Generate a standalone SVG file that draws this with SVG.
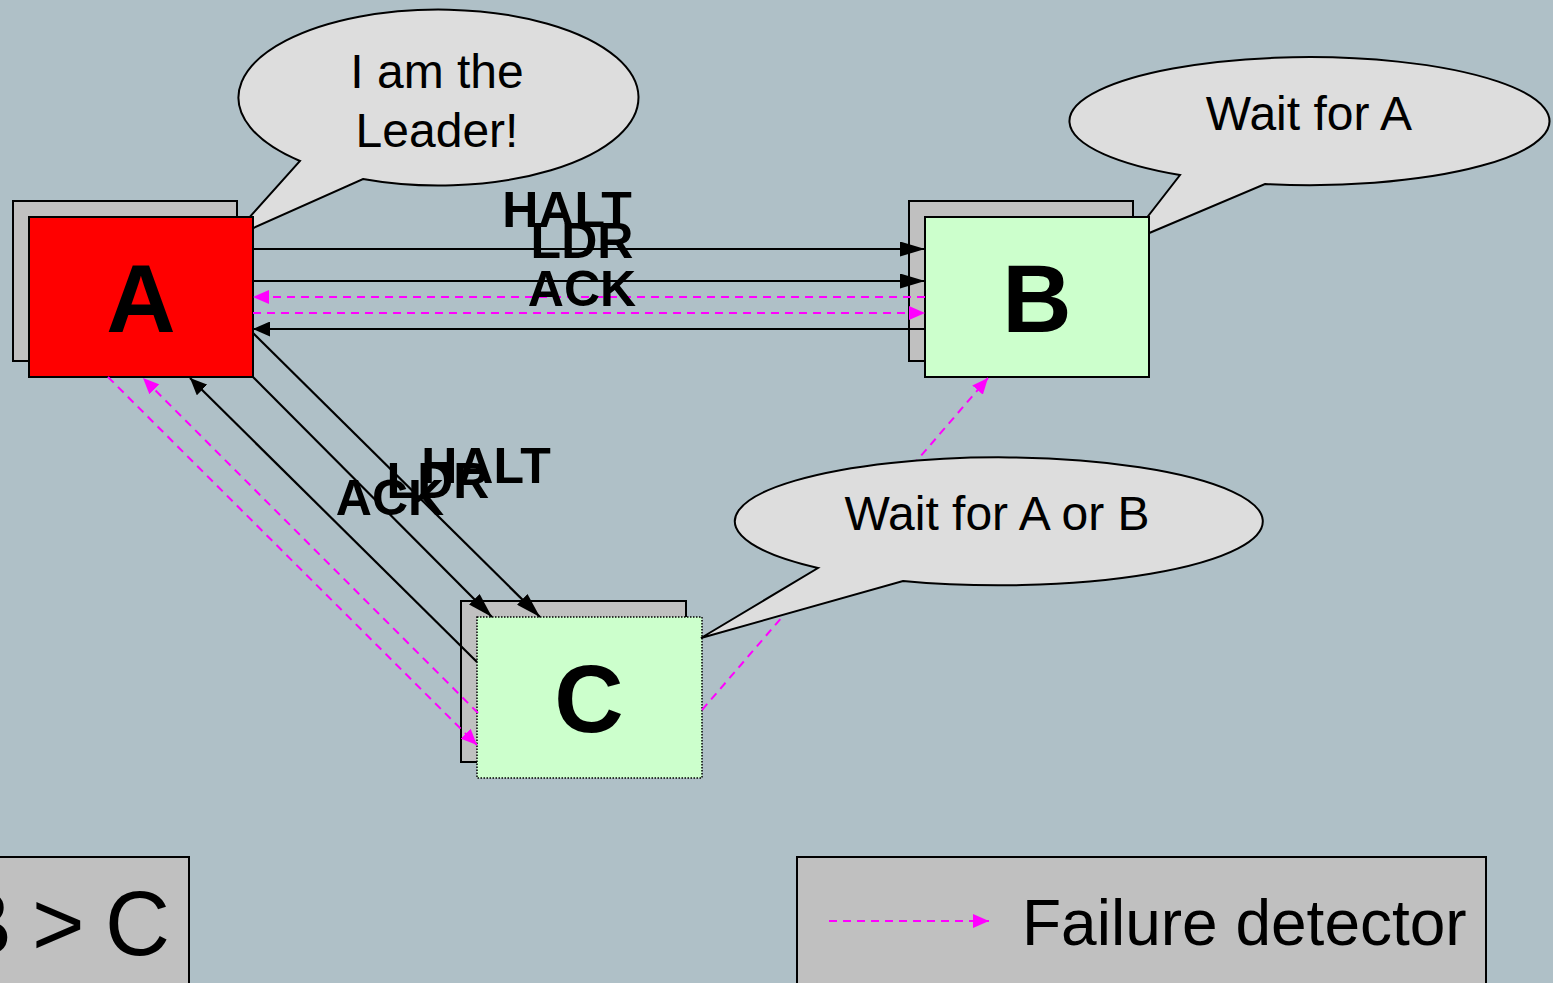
<svg xmlns="http://www.w3.org/2000/svg" width="1553" height="983" viewBox="0 0 1553 983">
<defs>
<style>
.bg{fill:#AFC0C7}
.bubble{fill:#DDDDDD;stroke:#000;stroke-width:2}
.btxt{font-family:"Liberation Sans",Arial,sans-serif;font-size:48px;fill:#000;text-anchor:middle}
.shadow{fill:#C0C0C0;stroke:#000;stroke-width:2}
.front{stroke:#000;stroke-width:2}
.letter{font-family:"Liberation Sans",Arial,sans-serif;font-weight:bold;font-size:96px;fill:#000;text-anchor:middle}
.msg{stroke:#000;stroke-width:2.2;fill:none}
.fd{stroke:#FF00FF;stroke-width:2;stroke-dasharray:8 6;fill:none}
.lbl{font-family:"Liberation Sans",Arial,sans-serif;font-weight:bold;font-size:50px;fill:#000;text-anchor:middle}
.box{fill:#C0C0C0;stroke:#000;stroke-width:2}
</style>
<marker id="arrL" viewBox="0 0 25 15" refX="25" refY="7.5" markerWidth="25" markerHeight="15" markerUnits="userSpaceOnUse" orient="auto">
<path d="M0,0 L25,7.5 L0,15 Z" fill="#000"/>
</marker>
<marker id="arrS" viewBox="0 0 17 15" refX="17" refY="7.5" markerWidth="17" markerHeight="15" markerUnits="userSpaceOnUse" orient="auto">
<path d="M0,0 L17,7.5 L0,15 Z" fill="#000"/>
</marker>
<marker id="arrM" viewBox="0 0 16 14" refX="16" refY="7" markerWidth="16" markerHeight="14" markerUnits="userSpaceOnUse" orient="auto">
<path d="M0,0 L16,7 L0,14 Z" fill="#FF00FF"/>
</marker>
</defs>
<rect class="bg" x="0" y="0" width="1553" height="983"/>

<g id="bubble-leader">
<path class="bubble" d="M300,161 A200 88 0 1 1 363,179 L231,238 Z"/>
<text class="btxt" x="437" y="88">I am the</text>
<text class="btxt" x="437" y="147">Leader!</text>
</g>
<g id="bubble-waitA">
<path class="bubble" d="M1180,175 A240 64 0 1 1 1265,184 L1128,242 Z"/>
<text class="btxt" x="1309" y="130">Wait for A</text>
</g>

<g id="node-A">
<rect class="shadow" x="13" y="201" width="224" height="160"/>
<rect class="front" x="29" y="217" width="224" height="160" fill="#FF0000"/>
<text class="letter" x="141" y="332">A</text>
</g>
<g id="node-B">
<rect class="shadow" x="909" y="201" width="224" height="160"/>
<rect class="front" x="925" y="217" width="224" height="160" fill="#CCFFCC"/>
<text class="letter" x="1037" y="332">B</text>
</g>
<g id="node-C">
<rect class="shadow" x="461" y="601" width="225" height="161"/>
<rect x="477" y="617" width="225" height="161" fill="#CCFFCC" stroke="#000" stroke-width="1.5" stroke-dasharray="1.5 1.5"/>
<text class="letter" x="589" y="732">C</text>
</g>

<g id="connectors">
<line class="msg" x1="253" y1="249" x2="925" y2="249" marker-end="url(#arrL)"/>
<line class="msg" x1="253" y1="281" x2="925" y2="281" marker-end="url(#arrL)"/>
<line class="fd" x1="925" y1="297" x2="253" y2="297" marker-end="url(#arrM)"/>
<line class="fd" x1="253" y1="313" x2="925" y2="313" marker-end="url(#arrM)"/>
<line class="msg" x1="925" y1="329" x2="253" y2="329" marker-end="url(#arrS)"/>
<line class="msg" x1="253" y1="377" x2="492" y2="617" marker-end="url(#arrL)"/>
<line class="msg" x1="253" y1="333" x2="540" y2="617" marker-end="url(#arrL)"/>
<line class="msg" x1="477" y1="662" x2="190" y2="378" marker-end="url(#arrS)"/>
<line class="fd" x1="108" y1="377" x2="477" y2="745" marker-end="url(#arrM)"/>
<line class="fd" x1="478" y1="713" x2="143" y2="378" marker-end="url(#arrM)"/>
<line class="fd" x1="702" y1="710" x2="988" y2="378" marker-end="url(#arrM)"/>
</g>

<g id="labels">
<text class="lbl" x="567" y="227" font-size="52">HALT</text>
<text class="lbl" x="582" y="258">LDR</text>
<text class="lbl" x="582" y="306">ACK</text>
<text class="lbl" x="486" y="483" font-size="52">HALT</text>
<text class="lbl" x="438" y="498">LDR</text>
<text class="lbl" x="390" y="515">ACK</text>
</g>

<g id="bubble-waitAB">
<path class="bubble" d="M818,568 A264 64 0 1 1 903,581 L701,638 Z"/>
<text class="btxt" x="997" y="530">Wait for A or B</text>
</g>

<g id="order-box">
<rect class="box" x="-10" y="857" width="199" height="140"/>
<text y="955" font-family="Liberation Sans, Arial, sans-serif" font-size="90" fill="#000"><tspan x="-48">B</tspan><tspan x="32">&gt;</tspan><tspan x="105">C</tspan></text>
</g>

<g id="legend">
<rect class="box" x="797" y="857" width="689" height="140"/>
<line class="fd" x1="829" y1="921" x2="989" y2="921" marker-end="url(#arrM)"/>
<text x="1022" y="945" font-family="Liberation Sans, Arial, sans-serif" font-size="64" fill="#000">Failure detector</text>
</g>
</svg>
